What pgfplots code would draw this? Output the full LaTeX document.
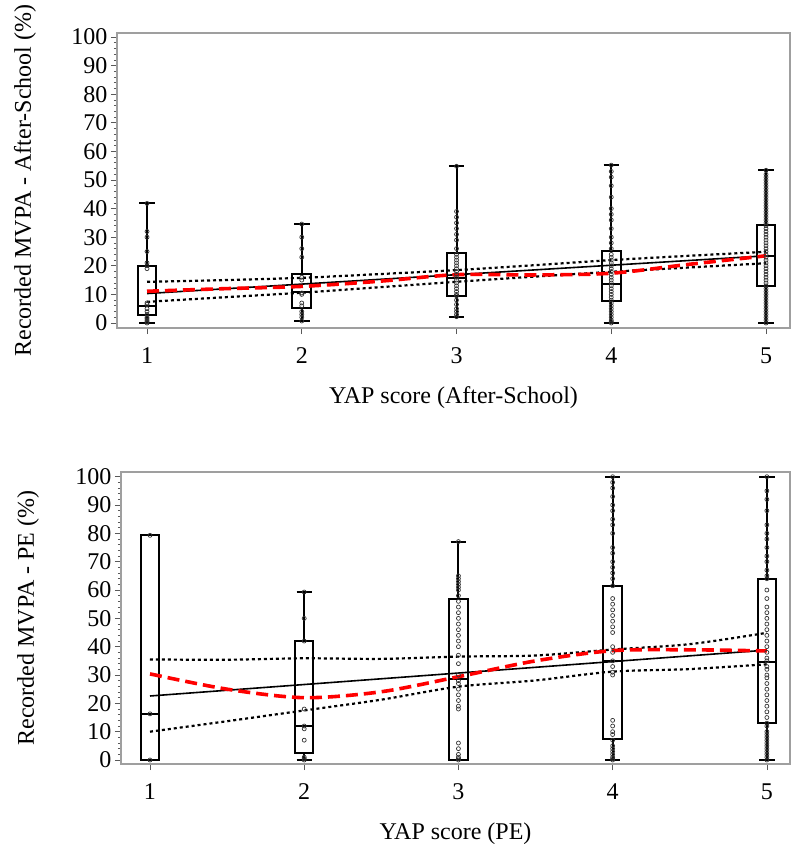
\documentclass[border=0pt]{standalone}
\usepackage{fontspec}
\setmainfont{Liberation Serif}
\usepackage{pgfplots}
\usepgfplotslibrary{statistics}
\pgfplotsset{compat=1.18}

\newcommand{\lblfont}{\fontsize{24}{28}\selectfont}
\pgfplotsset{
  yap/.style={
    scale only axis,
    xtick={1,2,3,4,5},
    ytick={0,10,...,100},
    minor y tick num=4,
    tick align=outside,
    tick pos=left,
    axis line style={draw=gray!75, line width=1.2pt},
    major tick length=6pt, minor tick length=3pt,
    tick style={gray!70!black, line width=0.7pt},
    tick label style={font=\lblfont},
    xticklabel style={yshift=-10pt},
    /pgf/number format/assume math mode=true,
    every axis y label/.style={at={(rel axis cs:0,0.5)}, rotate=90, anchor=center, yshift=92pt, font=\lblfont},
    every axis x label/.style={at={(rel axis cs:0.5,0)}, anchor=center, yshift=-70pt, font=\lblfont},
    boxplot/draw direction=y,
    clip=false,
  },
  bx/.style={boxplot prepared={draw position=#1, box extend=0.12, whisker extend=0.1},
    draw=black, line width=2pt, solid},
  pts/.style={only marks, mark=o, mark size=2pt, draw=black!80, line width=0.7pt},
  fit/.style={black, line width=1.6pt, no marks},
  band/.style={black, line width=2.2pt, dash pattern=on 3pt off 3pt, no marks, smooth},
  loess/.style={red, line width=3.6pt, dash pattern=on 12pt off 6pt, no marks, smooth},
}

\begin{document}
\begin{tikzpicture}
\useasboundingbox (0,0) rectangle (791pt,-844pt);

% ---- top: after-school
\begin{axis}[yap, at={(117pt,-328pt)}, anchor=south west,
  width=673pt, height=295pt,
  xmin=0.806, xmax=5.155, ymin=-1.75, ymax=101.4,
  xlabel={YAP score (After-School)}, ylabel={Recorded MVPA - After-School (\%)}]
\addplot+[bx=1, boxplot prepared={lower whisker=0, lower quartile=2.8, median=6, upper quartile=19.8, upper whisker=41.8}] coordinates {};
\addplot+[bx=2, boxplot prepared={lower whisker=0.7, lower quartile=5.1, median=11, upper quartile=17.1, upper whisker=34.6}] coordinates {};
\addplot+[bx=3, boxplot prepared={lower whisker=2.2, lower quartile=9.4, median=15.8, upper quartile=24.4, upper whisker=54.8}] coordinates {};
\addplot+[bx=4, boxplot prepared={lower whisker=0, lower quartile=7.7, median=13.6, upper quartile=25.2, upper whisker=55.2}] coordinates {};
\addplot+[bx=5, boxplot prepared={lower whisker=0, lower quartile=13, median=23.5, upper quartile=34.2, upper whisker=53.4}] coordinates {};

\addplot[pts] coordinates {(1,0)(1,0.5)(1,1)(1,1.5)(1,2)(1,3)(1,4)(1,5)(1,6.5)(1,7)(1,19)(1,20)(1,21)(1,25)(1,30)(1,32)(1,41.8)};
\addplot[pts] coordinates {(2,0.7)(2,2)(2,3)(2,4)(2,6)(2,7)(2,10)(2,10.5)(2,15)(2,16)(2,23)(2,26)(2,30)(2,34.6)};
\addplot[pts] coordinates {(3,2.2)(3,3)(3,4)(3,5)(3,6.5)(3,8)(3,9.5)(3,10)(3,11)(3,12)(3,13)(3,14)(3,15)(3,16)(3,17)(3,18)(3,19)(3,20)(3,21)(3,22)(3,23)(3,24)(3,26)(3,29)(3,31)(3,33)(3,35)(3,37)(3,39)(3,54.8)};
\addplot[pts] coordinates {(4,0)(4,0.5)(4,1)(4,2)(4,3)(4,4)(4,5)(4,6)(4,7)(4,8)(4,9)(4,10)(4,11)(4,12)(4,13)(4,14)(4,15)(4,16)(4,17)(4,18)(4,19)(4,20)(4,21)(4,22)(4,23)(4,24)(4,26)(4,28)(4,30)(4,33)(4,36)(4,38)(4,40)(4,44)(4,48)(4,51)(4,53)(4,55.2)};
\addplot[pts] coordinates {(5,0)(5,1)(5,2)(5,3)(5,4)(5,5)(5,6)(5,7)(5,8)(5,9)(5,10)(5,11)(5,12)(5,13)(5,14)(5,15)(5,16)(5,17)(5,18)(5,19)(5,20)(5,21)(5,22)(5,23)(5,24)(5,25)(5,26)(5,27)(5,28)(5,29)(5,30)(5,31)(5,32)(5,33)(5,34)(5,35)(5,36)(5,37)(5,38)(5,39)(5,40)(5,41)(5,42)(5,43)(5,44)(5,45)(5,46)(5,47)(5,48)(5,49)(5,50)(5,51)(5,52)(5,53.4)};

\addplot[band] coordinates {(1,14.4)(1.5,15.0)(2,15.8)(2.5,17.1)(3,18.5)(3.5,20.2)(4,22.0)(4.5,23.5)(5,24.9)};
\addplot[band] coordinates {(1,7.4)(1.5,9.0)(2,10.6)(2.5,12.5)(3,14.4)(3.5,16.2)(4,17.9)(4.5,19.4)(5,20.9)};
\addplot[fit] coordinates {(1,10.3)(5,23.5)};
\addplot[loess] coordinates {(1,11.1)(1.5,12.0)(2,12.8)(2.5,14.6)(3,16.9)(3.5,16.8)(4,17.4)(4.5,20.5)(5,23.5)};
\end{axis}

% ---- bottom: PE
\begin{axis}[yap, at={(121pt,-764pt)}, anchor=south west,
  width=669pt, height=292pt,
  xmin=0.812, xmax=5.15, ymin=-1.41, ymax=101.66,
  every axis y label/.append style={yshift=1pt},
  xlabel={YAP score (PE)}, ylabel={Recorded MVPA - PE (\%)}]
\addplot+[bx=1, boxplot prepared={lower whisker=0, lower quartile=0, median=16.3, upper quartile=79.3, upper whisker=79.3}] coordinates {};
\addplot+[bx=2, boxplot prepared={lower whisker=0, lower quartile=2.4, median=12, upper quartile=42.1, upper whisker=59.3}] coordinates {};
\addplot+[bx=3, boxplot prepared={lower whisker=0, lower quartile=0, median=28.5, upper quartile=56.7, upper whisker=77.1}] coordinates {};
\addplot+[bx=4, boxplot prepared={lower whisker=0, lower quartile=7.3, median=34.9, upper quartile=61.5, upper whisker=100}] coordinates {};
\addplot+[bx=5, boxplot prepared={lower whisker=0, lower quartile=13, median=34.5, upper quartile=64, upper whisker=100}] coordinates {};

\addplot[pts] coordinates {(1,0)(1,16.3)(1,79.3)};
\addplot[pts] coordinates {(2,0)(2,0.5)(2,1)(2,7)(2,11)(2,12)(2,18)(2,42)(2,50)(2,59.3)};
\addplot[pts] coordinates {(3,0)(3,0.5)(3,1)(3,2)(3,4)(3,6)(3,18)(3,19)(3,21)(3,23)(3,25)(3,27)(3,28)(3,30)(3,34)(3,37)(3,40)(3,42)(3,44)(3,46)(3,48)(3,50)(3,52)(3,54)(3,56)(3,58)(3,60)(3,61)(3,62)(3,63)(3,64)(3,65)(3,77.1)};
\addplot[pts] coordinates {(4,0)(4,0.5)(4,1)(4,2)(4,3)(4,4)(4,5)(4,7)(4,9)(4,10)(4,12)(4,14)(4,30)(4,31)(4,33)(4,35)(4,38)(4,40)(4,45)(4,47)(4,49)(4,51)(4,53)(4,55)(4,57)(4,61.5)(4,64)(4,66)(4,68)(4,70)(4,73)(4,75)(4,80)(4,83)(4,85)(4,88)(4,90)(4,93)(4,96)(4,98)(4,100)};
\addplot[pts] coordinates {(5,0)(5,1)(5,2)(5,3)(5,4)(5,5)(5,6)(5,7)(5,8)(5,9)(5,10)(5,12)(5,13)(5,15)(5,17)(5,19)(5,21)(5,23)(5,25)(5,27)(5,29)(5,30)(5,32)(5,33)(5,35)(5,36)(5,38)(5,40)(5,42)(5,44)(5,46)(5,48)(5,50)(5,52)(5,54)(5,57)(5,60)(5,64)(5,65)(5,67)(5,70)(5,72)(5,75)(5,78)(5,80)(5,83)(5,88)(5,92)(5,95)(5,100)};

\addplot[band] coordinates {(1,35.5)(1.5,35.4)(2,35.9)(2.5,35.7)(3,36.5)(3.5,36.9)(4,39.0)(4.5,40.9)(5,44.9)};
\addplot[band] coordinates {(1,10.0)(1.5,13.7)(2,17.5)(2.5,21.3)(3,25.9)(3.5,28.1)(4,31.2)(4.5,32.1)(5,33.8)};
\addplot[fit] coordinates {(1,22.6)(5,38.8)};
\addplot[loess] coordinates {(1,30.4)(1.5,25.0)(2,22.0)(2.5,24.1)(3,29.4)(3.5,35.0)(4,38.6)(4.5,38.9)(5,38.5)};
\end{axis}
\end{tikzpicture}
\end{document}
